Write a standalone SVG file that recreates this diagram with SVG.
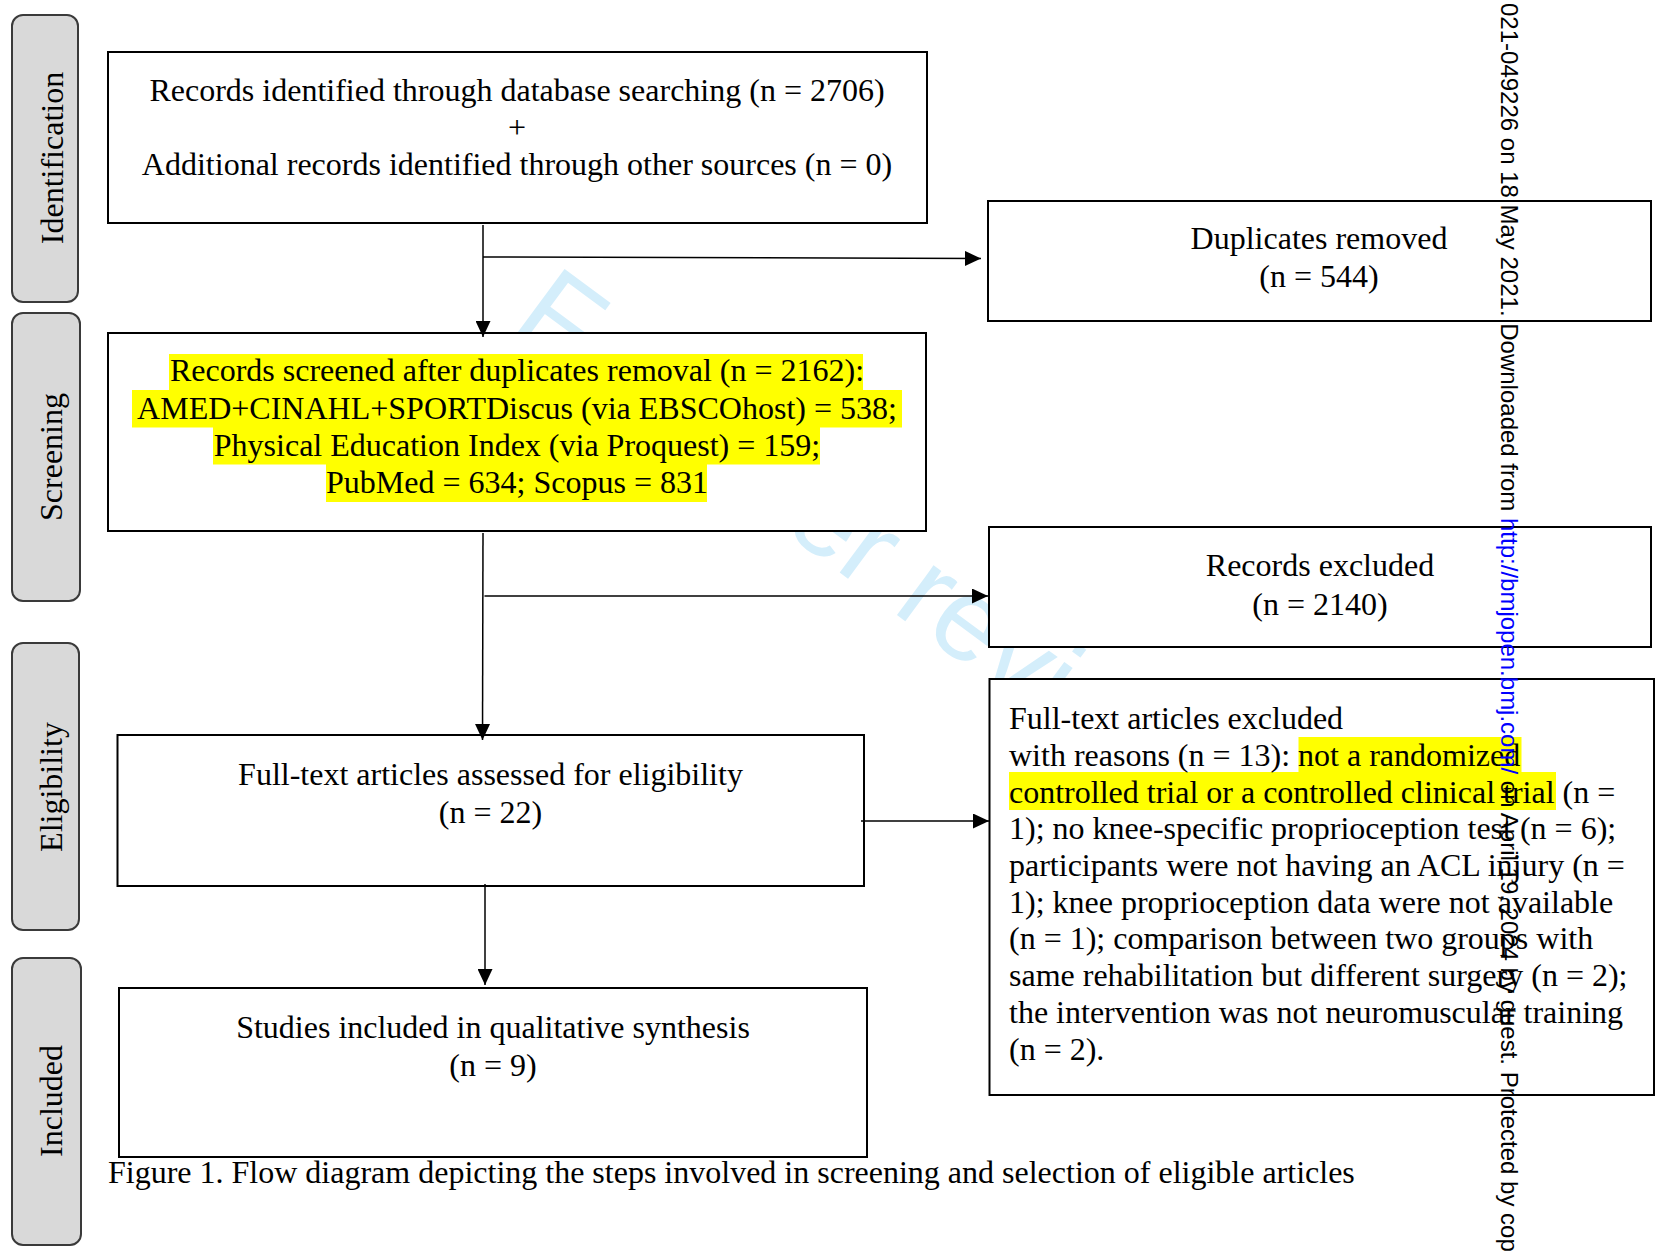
<svg xmlns="http://www.w3.org/2000/svg" width="1658" height="1251" viewBox="0 0 1658 1251">
<defs>
<marker id="arr" markerUnits="userSpaceOnUse" markerWidth="16" markerHeight="15" refX="16" refY="7.5" orient="auto">
<path d="M0,0 L16,7.5 L0,15 z" fill="#000"/>
</marker>
<style>
.box{fill:#fff;stroke:#000;stroke-width:2}
.side{fill:#d9d9d9;stroke:#3a3a3a;stroke-width:2}
.t{font-family:"Liberation Serif","Times New Roman",serif;font-size:32px;fill:#000}
.c{text-anchor:middle}
.lab{font-family:"Liberation Serif","Times New Roman",serif;font-size:32px;fill:#000;text-anchor:middle}
.hl{fill:#ffff00}
.con{fill:none;stroke:#000;stroke-width:1.5}
</style>
</defs>
<rect width="1658" height="1251" fill="#fff"/>

<text id="watermark" transform="translate(509,328) rotate(36.5)" font-family="Liberation Sans, Arial, sans-serif" font-size="117" fill="#d4eefb">For peer review only</text>

<g id="stage-identification">
<rect class="side" x="12" y="15" width="66" height="287" rx="11"/>
<text class="lab" transform="translate(63,158) rotate(-90)">Identification</text>
</g>
<g id="stage-screening">
<rect class="side" x="12" y="313" width="68" height="288" rx="11"/>
<text class="lab" transform="translate(62,457) rotate(-90)">Screening</text>
</g>
<g id="stage-eligibility">
<rect class="side" x="12" y="643" width="67" height="287" rx="11"/>
<text class="lab" transform="translate(62,787) rotate(-90)">Eligibility</text>
</g>
<g id="stage-included">
<rect class="side" x="12" y="958" width="69" height="287" rx="11"/>
<text class="lab" transform="translate(62,1101) rotate(-90)">Included</text>
</g>

<g id="identified">
<rect class="box" x="108" y="52" width="819" height="171"/>
<text class="t c" x="517" y="101">Records identified through database searching (n = 2706)</text>
<text class="t c" x="517" y="138">+</text>
<text class="t c" x="517" y="175">Additional records identified through other sources (n = 0)</text>
</g>

<g id="duplicates">
<rect class="box" x="988" y="201" width="663" height="120"/>
<text class="t c" x="1319" y="249">Duplicates removed</text>
<text class="t c" x="1319" y="287">(n = 544)</text>
</g>

<g id="screened">
<rect class="box" x="108" y="333" width="818" height="198"/>
<rect class="hl" x="169" y="354" width="694" height="36.5"/>
<rect class="hl" x="132" y="390" width="770" height="37.5"/>
<rect class="hl" x="213" y="427" width="607" height="37.5"/>
<rect class="hl" x="326" y="464" width="381" height="38"/>
<text class="t c" x="517" y="381">Records screened after duplicates removal (n = 2162):</text>
<text class="t c" x="517" y="418.5">AMED+CINAHL+SPORTDiscus (via EBSCOhost) = 538;</text>
<text class="t c" x="517" y="456">Physical Education Index (via Proquest) = 159;</text>
<text class="t c" x="517" y="493">PubMed = 634; Scopus = 831</text>
</g>

<g id="records-excluded">
<rect class="box" x="989" y="527" width="662" height="120"/>
<text class="t c" x="1320" y="576">Records excluded</text>
<text class="t c" x="1320" y="615">(n = 2140)</text>
</g>

<g id="fulltext-assessed">
<rect class="box" x="117.5" y="735" width="746.5" height="151"/>
<text class="t c" x="490.5" y="785">Full-text articles assessed for eligibility</text>
<text class="t c" x="490.5" y="823">(n = 22)</text>
</g>

<g id="fulltext-excluded">
<rect class="box" x="989.5" y="679" width="664.5" height="416"/>
<rect class="hl" x="1298.5" y="737" width="223" height="35"/>
<rect class="hl" x="1009" y="772" width="547" height="38"/>
<text class="t" x="1009" y="729">Full-text articles excluded</text>
<text class="t" x="1009" y="765.5">with reasons (n = 13): not a randomized</text>
<text class="t" x="1009" y="802.5">controlled trial or a controlled clinical trial (n =</text>
<text class="t" x="1009" y="839">1); no knee-specific proprioception test (n = 6);</text>
<text class="t" x="1009" y="875.6">participants were not having an ACL injury (n =</text>
<text class="t" x="1009" y="912.5">1); knee proprioception data were not available</text>
<text class="t" x="1009" y="949.3">(n = 1); comparison between two groups with</text>
<text class="t" x="1009" y="986">same rehabilitation but different surgery (n = 2);</text>
<text class="t" x="1009" y="1022.7">the intervention was not neuromuscular training</text>
<text class="t" x="1009" y="1059.5">(n = 2).</text>
</g>

<g id="included">
<rect class="box" x="119" y="988" width="748" height="169"/>
<text class="t c" x="493" y="1038">Studies included in qualitative synthesis</text>
<text class="t c" x="493" y="1076">(n = 9)</text>
</g>

<g id="connectors">
<line class="con" x1="483" y1="225" x2="483" y2="337" marker-end="url(#arr)"/>
<line class="con" x1="483" y1="257" x2="981" y2="258.5" marker-end="url(#arr)"/>
<line class="con" x1="483" y1="533" x2="482.5" y2="740" marker-end="url(#arr)"/>
<line class="con" x1="484.5" y1="596" x2="988" y2="596" marker-end="url(#arr)"/>
<line class="con" x1="861" y1="821" x2="989" y2="821" marker-end="url(#arr)"/>
<line class="con" x1="485" y1="884" x2="485" y2="985" marker-end="url(#arr)"/>
</g>

<text id="caption" class="t" x="108" y="1183">Figure 1. Flow diagram depicting the steps involved in screening and selection of eligible articles</text>

<text id="side-notice" transform="translate(1501,3) rotate(90)" font-family="Liberation Sans, Arial, sans-serif" font-size="24" fill="#000">021-049226 on 18 May 2021. Downloaded from <tspan fill="#0000ff">http://bmjopen.bmj.com/</tspan> on April 19, 2024 by guest. Protected by cop</text>
</svg>
